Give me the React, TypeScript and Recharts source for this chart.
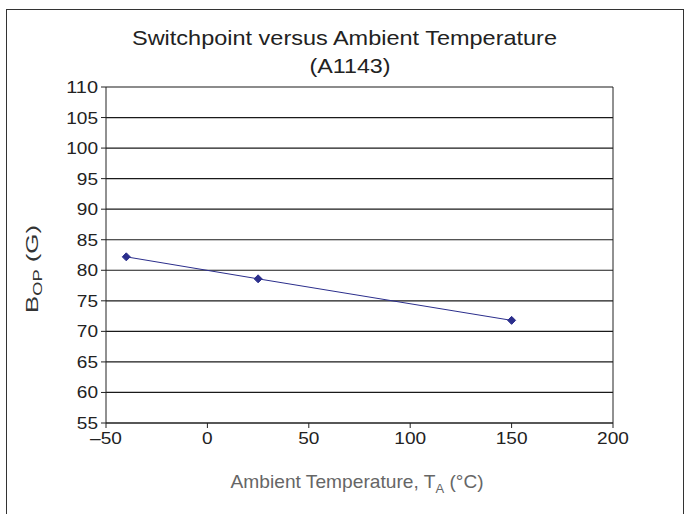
import React from 'react';
import { LineChart, Line, XAxis, YAxis, CartesianGrid, Customized } from 'recharts';

const temperatures = [-40, 25, 150];
const bopValues = [82.2, 78.6, 71.8];
const xTicks = [-50, 0, 50, 100, 150, 200];
const yTicks = [55, 60, 65, 70, 75, 80, 85, 90, 95, 100, 105, 110];

const data = temperatures.map((t, i) => ({ t, b: bopValues[i] }));

const FONT = '"Liberation Sans", Arial, sans-serif';
const LINE_COLOR = '#2B2E8C';
const INK = '#222';
const TICK_CHAR_W = 10.6;

const fmt = (v: number) => (v < 0 ? '\u2013' + Math.abs(v) : String(v));

const Diamond = (props: any) => {
  const { cx, cy, index } = props;
  if (cx == null || cy == null) return <g key={index} />;
  const r = 4;
  return (
    <polygon
      key={index}
      points={`${cx},${cy - r} ${cx + r},${cy} ${cx},${cy + r} ${cx - r},${cy}`}
      fill={LINE_COLOR}
      stroke={LINE_COLOR}
    />
  );
};

const XTick = (props: any) => {
  const { x, y, payload } = props;
  const s = fmt(payload.value);
  return (
    <text x={x} y={y} dy="0.71em" textAnchor="middle" fontSize={17} fontFamily={FONT} fill={INK}
      textLength={s.length * TICK_CHAR_W} lengthAdjust="spacingAndGlyphs">
      {s}
    </text>
  );
};

const YTick = (props: any) => {
  const { x, y, payload } = props;
  const s = fmt(payload.value);
  return (
    <text x={x} y={y} dy="0.355em" textAnchor="end" fontSize={17} fontFamily={FONT} fill={INK}
      textLength={s.length * TICK_CHAR_W} lengthAdjust="spacingAndGlyphs">
      {s}
    </text>
  );
};

const Texts = () => (
  <g fontFamily={FONT}>
    <text x={344.5} y={45} textAnchor="middle" fontSize={21} fill={INK} textLength={425} lengthAdjust="spacingAndGlyphs">
      Switchpoint versus Ambient Temperature
    </text>
    <text x={350} y={73} textAnchor="middle" fontSize={21} fill={INK} textLength={81} lengthAdjust="spacingAndGlyphs">
      (A1143)
    </text>
    <text x={357} y={488} textAnchor="middle" fontSize={19} fill="#666">
      <tspan textLength={205} lengthAdjust="spacingAndGlyphs">Ambient Temperature, T</tspan>
      <tspan fontSize={13} dy={5}>A</tspan>
      <tspan dy={-5}> (°C)</tspan>
    </text>
    <text
      x={0}
      y={0}
      transform="translate(38,269) rotate(-90)"
      textAnchor="middle"
      fontSize={17}
      fill="#333"
      textLength={88}
      lengthAdjust="spacingAndGlyphs"
    >
      B
      <tspan fontSize={12} dy={4}>OP</tspan>
      <tspan dy={-4}> (G)</tspan>
    </text>
  </g>
);

export default function App() {
  return (
    <div style={{ position: 'absolute', left: 0, top: 0, width: 689, height: 514, background: '#fff', overflow: 'hidden' }}>
      <div
        style={{
          position: 'absolute',
          left: 6,
          top: 9,
          width: 678,
          height: 520,
          border: '1px solid #333',
          boxSizing: 'border-box',
        }}
      />
      <div style={{ position: 'absolute', left: 0, top: 0 }}>
        <LineChart
          width={689}
          height={514}
          data={data}
          margin={{ top: 87, right: 75, left: 56, bottom: 61 }}
        >
          <CartesianGrid yAxisId="l" horizontal vertical={false} stroke="#1a1a1a" strokeWidth={1.2} strokeOpacity={1} />
          <XAxis
            dataKey="t"
            type="number"
            domain={[-50, 200]}
            ticks={xTicks}
            height={30}
            stroke={INK}
            tickSize={5}
            tickMargin={4}
            tick={<XTick />}
            interval={0}
            allowDataOverflow
          />
          <YAxis
            yAxisId="l"
            type="number"
            domain={[55, 110]}
            ticks={yTicks}
            width={50}
            stroke={INK}
            tickSize={5}
            tickMargin={3}
            interval={0}
            tick={<YTick />}
            allowDataOverflow
          />
          <YAxis
            yAxisId="r"
            orientation="right"
            type="number"
            domain={[55, 110]}
            tick={false}
            tickLine={false}
            width={1}
            stroke={INK}
          />
          <Line
            yAxisId="l"
            dataKey="b"
            stroke={LINE_COLOR}
            strokeWidth={1}
            dot={<Diamond />}
            activeDot={false}
            isAnimationActive={false}
          />
          <Customized component={Texts} />
        </LineChart>
      </div>
    </div>
  );
}
